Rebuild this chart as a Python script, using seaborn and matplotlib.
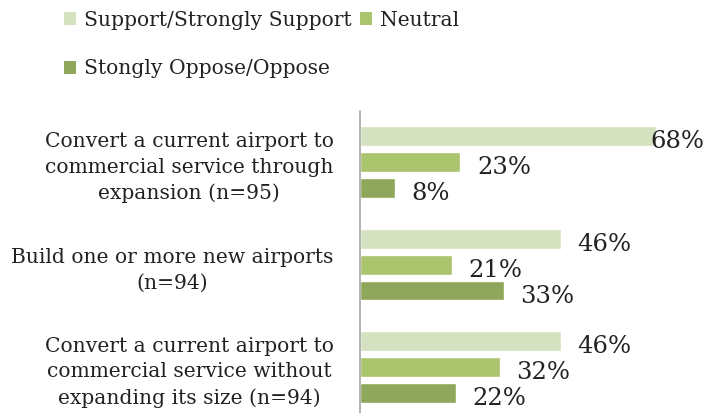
import matplotlib
matplotlib.use("Agg")
import matplotlib.pyplot as plt
from matplotlib.patches import Patch
import seaborn as sns
import pandas as pd

categories = [
    "Convert a current airport to\ncommercial service through\nexpansion (n=95)",
    "Build one or more new airports\n(n=94)",
    "Convert a current airport to\ncommercial service without\nexpanding its size (n=94)",
]
responses = ["Support/Strongly Support", "Neutral", "Stongly Oppose/Oppose"]
support = [68, 46, 46]
neutral = [23, 21, 32]
oppose = [8, 33, 22]
colors = ["#D5E2BF", "#ABC46E", "#8FA75A"]

rows = []
for i, c in enumerate(categories):
    for r, vals in zip(responses, [support, neutral, oppose]):
        rows.append({"item": c, "response": r, "pct": vals[i]})
df = pd.DataFrame(rows)

sns.set_theme(style="white")
plt.rcParams["font.family"] = ["DejaVu Serif"]
plt.rcParams["text.color"] = "#222222"

W, H, DPI = 705, 413, 100
fig = plt.figure(figsize=(W / DPI, H / DPI), dpi=DPI)
ax = fig.add_axes([360 / W, 0.0, 345 / W, 302 / H])

sns.barplot(data=df, y="item", x="pct", hue="response", hue_order=responses,
            order=categories, orient="h", palette=colors, width=0.76, gap=0.23,
            ax=ax, legend=False, saturation=1)

ax.set_xlim(0, 345 / 4.36)
ax.set_ylim(2.45, -0.5)
ax.set_xlabel("")
ax.set_ylabel("")
ax.set_xticks([])
for s in ["top", "right", "bottom"]:
    ax.spines[s].set_visible(False)
ax.spines["left"].set_color("#A6A6A6")
ax.spines["left"].set_linewidth(1.2)
ax.tick_params(axis="y", length=0, pad=19, labelsize=14.6, labelcolor="#222222")
for t in ax.get_yticklabels():
    t.set_multialignment("center")
    t.set_linespacing(1.45)

texts = []
for cont in ax.containers:
    texts += ax.bar_label(cont, fmt="%d%%", padding=12, fontsize=17.5, color="#222222")
for t in texts:
    t.xyann = (12, -4)
    t.set_clip_on(False)

handles = [Patch(facecolor=c, edgecolor="none") for c in colors]
order = [0, 2, 1]
fig.legend([handles[i] for i in order], [responses[i] for i in order],
           loc="upper left", bbox_to_anchor=(64 / W, 1 - 11 / H), ncol=2,
           frameon=False, fontsize=14.6, handlelength=0.6, handleheight=0.6,
           handletextpad=0.4, columnspacing=0.4, labelspacing=1.45,
           borderaxespad=0, borderpad=0)

fig.canvas.draw()
for t in texts:
    bb = t.get_window_extent()
    if bb.x1 > W - 1:
        shift = (bb.x1 - (W - 1)) / DPI * 72
        t.xyann = (t.xyann[0] - shift, t.xyann[1])

fig.savefig("out.png", dpi=DPI)
